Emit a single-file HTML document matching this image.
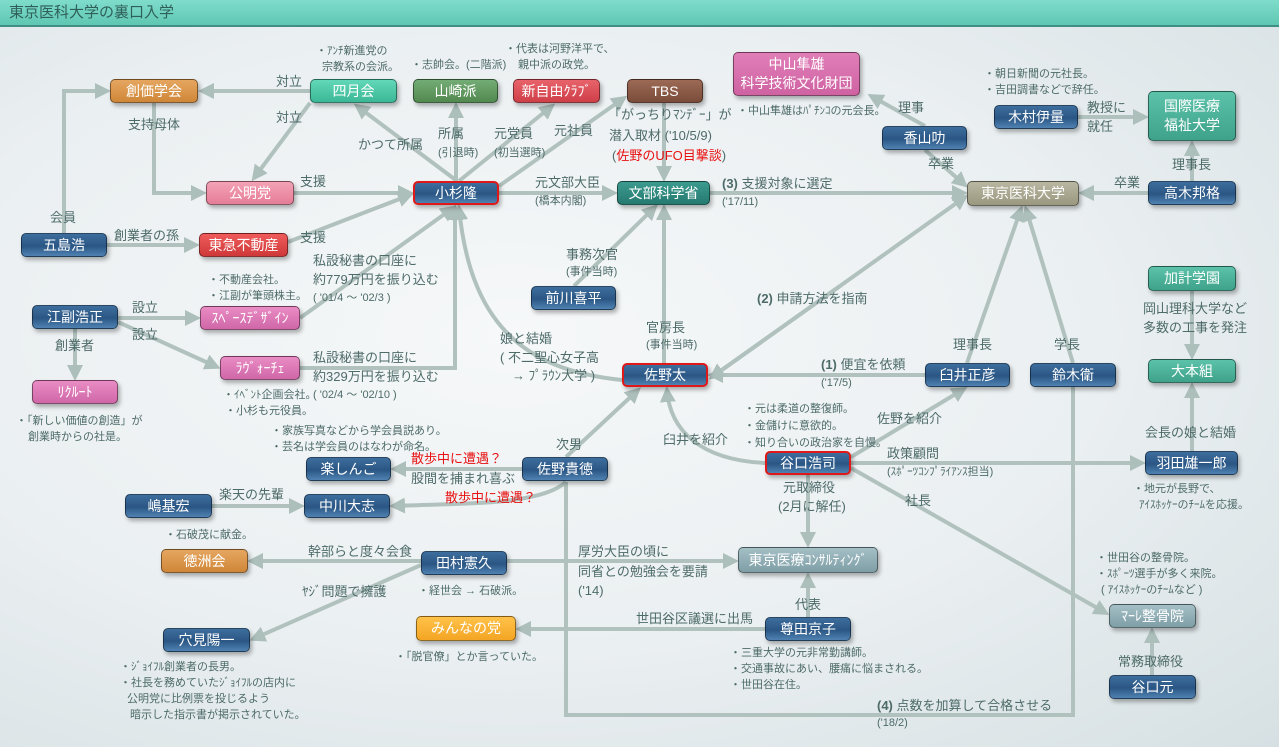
<!DOCTYPE html>
<html><head><meta charset="utf-8"><style>
*{margin:0;padding:0;box-sizing:border-box}
body{width:1279px;height:747px;overflow:hidden;position:relative;font-family:"Liberation Sans","Noto Sans CJK JP",sans-serif;background:radial-gradient(ellipse at 40% 45%,#f6f8f9 0%,#eaeff1 55%,#d6e0e3 100%);color:#4d6b69}
#title{position:absolute;left:0;top:0;width:1279px;height:27px;background:linear-gradient(#7fdccb,#5fc7b3);border-bottom:2px solid #3f8f84;font-size:15px;line-height:26px;padding-left:9px;color:#2f5f59}
svg{position:absolute;left:0;top:0}
.n{position:absolute;border-radius:5px;color:#fff;font-size:14px;text-align:center;display:flex;align-items:center;justify-content:center;line-height:19px;box-shadow:2px 3px 4px rgba(0,0,0,.3);border:1px solid rgba(0,0,0,.45)}
.b{background:linear-gradient(#3d6e9e,#2b5684 55%,#4f82b2)}
.r{border:2px solid #e01818}
.t{position:absolute;font-size:13px;white-space:nowrap;line-height:16px}
.s{position:absolute;font-size:11px;white-space:nowrap;line-height:14px}
.red{color:#e81010}
</style></head><body>
<div id="title">東京医科大学の裏口入学</div>
<svg width="1279" height="747">
<defs><marker id="a" markerWidth="4" markerHeight="4" refX="3" refY="2" orient="auto" markerUnits="strokeWidth"><path d="M0,0 L4,2 L0,4 z" fill="#adbfbb"/></marker></defs>
<g stroke="#b1c2be" stroke-width="4" fill="none" marker-end="url(#a)">
<line x1="310" y1="91" x2="202" y2="91"/>
<line x1="310" y1="103" x2="254" y2="178"/>
<polyline points="154,103 154,193 203,193"/>
<polyline points="64,233 64,91 107,91"/>
<line x1="107" y1="245" x2="196" y2="245"/>
<line x1="294" y1="193" x2="410" y2="193"/>
<line x1="288" y1="242" x2="410" y2="195"/>
<line x1="457" y1="181" x2="357" y2="106"/>
<line x1="456" y1="181" x2="456" y2="106"/>
<line x1="459" y1="181" x2="552" y2="106"/>
<line x1="499" y1="186" x2="624" y2="98"/>
<line x1="499" y1="193" x2="614" y2="193"/>
<line x1="664" y1="103" x2="664" y2="178"/>
<line x1="300" y1="318" x2="453" y2="208"/>
<polyline points="300,368 455,368 455,208"/>
<path d="M622,380 C520,370 470,320 459,208"/>
<line x1="574" y1="286" x2="655" y2="207"/>
<line x1="664" y1="363" x2="664" y2="208"/>
<line x1="710" y1="193" x2="964" y2="193"/>
<line x1="925" y1="126" x2="871" y2="96"/>
<line x1="925" y1="150" x2="965" y2="185"/>
<line x1="1078" y1="117" x2="1145" y2="117"/>
<line x1="1192" y1="181" x2="1192" y2="144"/>
<line x1="1148" y1="193" x2="1082" y2="193"/>
<line x1="840" y1="286" x2="965" y2="197"/>
<line x1="840" y1="286" x2="712" y2="377"/>
<line x1="925" y1="375" x2="711" y2="375"/>
<line x1="967" y1="363" x2="1021" y2="209"/>
<line x1="1073" y1="363" x2="1026" y2="209"/>
<line x1="1192" y1="291" x2="1192" y2="356"/>
<line x1="1192" y1="451" x2="1192" y2="386"/>
<line x1="851" y1="463" x2="1142" y2="463"/>
<line x1="851" y1="457" x2="964" y2="389"/>
<path d="M765,463 C700,460 670,430 667,390"/>
<line x1="808" y1="475" x2="808" y2="544"/>
<line x1="851" y1="468" x2="1106" y2="613"/>
<line x1="808" y1="617" x2="808" y2="576"/>
<line x1="765" y1="629" x2="519" y2="629"/>
<line x1="507" y1="561" x2="735" y2="561"/>
<line x1="421" y1="561" x2="251" y2="561"/>
<line x1="421" y1="565" x2="253" y2="639"/>
<line x1="1152" y1="675" x2="1152" y2="631"/>
<line x1="566" y1="457" x2="638" y2="390"/>
<line x1="522" y1="469" x2="394" y2="469"/>
<path d="M566,482 C540,505 470,503 393,506"/>
<line x1="212" y1="506" x2="301" y2="506"/>
<line x1="118" y1="318" x2="197" y2="318"/>
<line x1="118" y1="322" x2="217" y2="367"/>
<line x1="75" y1="329" x2="75" y2="377"/>
</g>
<line x1="840" y1="286" x2="712" y2="377" stroke="#b1c2be" stroke-width="4" marker-end="url(#a)"/>
<polyline points="566,482 566,715 1073,715 1073,387" stroke="#b1c2be" stroke-width="4" fill="none"/>
</svg>

<div class="n" style="left:110px;top:79px;width:88px;height:24px;background:linear-gradient(#e6a660,#cf8738)">創価学会</div>
<div class="n" style="left:310px;top:79px;width:87px;height:24px;background:linear-gradient(#62d8b8,#3bb897)">四月会</div>
<div class="n" style="left:413px;top:79px;width:85px;height:24px;background:linear-gradient(#74ac76,#52894f)">山崎派</div>
<div class="n" style="left:513px;top:79px;width:87px;height:24px;background:linear-gradient(#e8636b,#cf3f48)">新自由ｸﾗﾌﾞ</div>
<div class="n" style="left:627px;top:79px;width:76px;height:24px;background:linear-gradient(#9c6a55,#7a4c3a)">TBS</div>
<div class="n" style="left:733px;top:52px;width:127px;height:44px;background:linear-gradient(#e07fb8,#cf62a2);flex-direction:column">中山隼雄<br>科学技術文化財団</div>
<div class="n" style="left:206px;top:181px;width:88px;height:24px;background:linear-gradient(#f3a2b5,#e57d97)">公明党</div>
<div class="n b r" style="left:413px;top:181px;width:86px;height:24px">小杉隆</div>
<div class="n" style="left:617px;top:181px;width:93px;height:24px;background:linear-gradient(#3c9a8f,#267a70)">文部科学省</div>
<div class="n" style="left:967px;top:181px;width:112px;height:25px;background:linear-gradient(#b9b7a2,#9a987f)">東京医科大学</div>
<div class="n b" style="left:882px;top:126px;width:85px;height:24px">香山叻</div>
<div class="n b" style="left:994px;top:105px;width:84px;height:24px">木村伊量</div>
<div class="n" style="left:1148px;top:91px;width:88px;height:50px;background:linear-gradient(#5cc2aa,#3fa28a);flex-direction:column">国際医療<br>福祉大学</div>
<div class="n b" style="left:1148px;top:181px;width:88px;height:24px">高木邦格</div>
<div class="n b" style="left:21px;top:233px;width:86px;height:24px">五島浩</div>
<div class="n" style="left:199px;top:233px;width:89px;height:24px;background:linear-gradient(#ef5b5b,#cf3838)">東急不動産</div>
<div class="n b" style="left:531px;top:286px;width:85px;height:24px">前川喜平</div>
<div class="n" style="left:1148px;top:266px;width:88px;height:25px;background:linear-gradient(#5cc2aa,#3fa28a)">加計学園</div>
<div class="n b" style="left:32px;top:305px;width:86px;height:24px">江副浩正</div>
<div class="n" style="left:200px;top:306px;width:100px;height:24px;background:linear-gradient(#e98cc4,#d067a8)">ｽﾍﾟｰｽﾃﾞｻﾞｲﾝ</div>
<div class="n" style="left:220px;top:356px;width:80px;height:24px;background:linear-gradient(#e98cc4,#d067a8)">ﾗｳﾞｫｰﾁｪ</div>
<div class="n" style="left:32px;top:380px;width:86px;height:24px;background:linear-gradient(#e98cc4,#d067a8)">ﾘｸﾙｰﾄ</div>
<div class="n b r" style="left:622px;top:363px;width:86px;height:24px">佐野太</div>
<div class="n b" style="left:925px;top:363px;width:85px;height:24px">臼井正彦</div>
<div class="n b" style="left:1030px;top:363px;width:86px;height:24px">鈴木衛</div>
<div class="n" style="left:1148px;top:359px;width:88px;height:24px;background:linear-gradient(#5cc2aa,#3fa28a)">大本組</div>
<div class="n b r" style="left:765px;top:451px;width:86px;height:24px">谷口浩司</div>
<div class="n b" style="left:1145px;top:451px;width:93px;height:24px">羽田雄一郎</div>
<div class="n b" style="left:306px;top:457px;width:85px;height:24px">楽しんご</div>
<div class="n b" style="left:522px;top:457px;width:86px;height:24px">佐野貴徳</div>
<div class="n b" style="left:125px;top:494px;width:87px;height:24px">嶋基宏</div>
<div class="n b" style="left:304px;top:494px;width:86px;height:24px">中川大志</div>
<div class="n" style="left:161px;top:549px;width:87px;height:24px;background:linear-gradient(#e6a660,#cf8738)">徳洲会</div>
<div class="n b" style="left:421px;top:551px;width:86px;height:24px">田村憲久</div>
<div class="n" style="left:738px;top:547px;width:140px;height:26px;background:linear-gradient(#a4bfc6,#7f9ea6)">東京医療ｺﾝｻﾙﾃｨﾝｸﾞ</div>
<div class="n" style="left:1109px;top:604px;width:87px;height:24px;background:linear-gradient(#a4bfc6,#7f9ea6)">ﾏｰﾚ整骨院</div>
<div class="n" style="left:416px;top:616px;width:100px;height:25px;background:linear-gradient(#ffc24a,#f4a523)">みんなの党</div>
<div class="n b" style="left:765px;top:617px;width:86px;height:24px">尊田京子</div>
<div class="n b" style="left:163px;top:628px;width:87px;height:24px">穴見陽一</div>
<div class="n b" style="left:1109px;top:675px;width:87px;height:24px">谷口元</div>

<div class="s" style="left:316px;top:44px">・ｱﾝﾁ新進党の</div>
<div class="s" style="left:322px;top:60px">宗教系の会派。</div>
<div class="s" style="left:411px;top:58px">・志帥会。(二階派)</div>
<div class="s" style="left:505px;top:42px">・代表は河野洋平で、</div>
<div class="s" style="left:518px;top:58px">親中派の政党。</div>
<div class="t" style="left:276px;top:74px">対立</div>
<div class="t" style="left:276px;top:110px">対立</div>
<div class="t" style="left:128px;top:117px">支持母体</div>
<div class="t" style="left:358px;top:137px">かつて所属</div>
<div class="t" style="left:438px;top:126px">所属</div>
<div class="s" style="left:438px;top:146px">(引退時)</div>
<div class="t" style="left:494px;top:126px">元党員</div>
<div class="s" style="left:494px;top:146px">(初当選時)</div>
<div class="t" style="left:554px;top:123px">元社員</div>
<div class="t" style="left:608px;top:107px">「がっちりﾏﾝﾃﾞｰ」が</div>
<div class="t" style="left:609px;top:128px">潜入取材 ('10/5/9)</div>
<div class="t" style="left:612px;top:148px">(<span class="red">佐野のUFO目撃談</span>)</div>
<div class="s" style="left:737px;top:104px">・中山隼雄はﾊﾟﾁﾝｺの元会長。</div>
<div class="t" style="left:898px;top:100px">理事</div>
<div class="s" style="left:984px;top:67px">・朝日新聞の元社長。</div>
<div class="s" style="left:984px;top:83px">・吉田調書などで辞任。</div>
<div class="t" style="left:1087px;top:100px">教授に</div>
<div class="t" style="left:1087px;top:119px">就任</div>
<div class="t" style="left:928px;top:156px">卒業</div>
<div class="t" style="left:1172px;top:157px">理事長</div>
<div class="t" style="left:1114px;top:175px">卒業</div>
<div class="t" style="left:300px;top:174px">支援</div>
<div class="t" style="left:535px;top:175px">元文部大臣</div>
<div class="s" style="left:535px;top:194px">(橋本内閣)</div>
<div class="t" style="left:722px;top:176px"><b>(3)</b> 支援対象に選定</div>
<div class="s" style="left:722px;top:195px">('17/11)</div>
<div class="t" style="left:50px;top:210px">会員</div>
<div class="t" style="left:114px;top:228px">創業者の孫</div>
<div class="t" style="left:300px;top:230px">支援</div>
<div class="t" style="left:566px;top:247px">事務次官</div>
<div class="s" style="left:566px;top:265px">(事件当時)</div>
<div class="t" style="left:313px;top:253px">私設秘書の口座に</div>
<div class="t" style="left:313px;top:272px">約779万円を振り込む</div>
<div class="s" style="left:313px;top:291px">( '01/4 ～ '02/3 )</div>
<div class="s" style="left:208px;top:273px">・不動産会社。</div>
<div class="s" style="left:208px;top:289px">・江副が筆頭株主。</div>
<div class="t" style="left:757px;top:291px"><b>(2)</b> 申請方法を指南</div>
<div class="t" style="left:1143px;top:301px">岡山理科大学など</div>
<div class="t" style="left:1143px;top:320px">多数の工事を発注</div>
<div class="t" style="left:132px;top:300px">設立</div>
<div class="t" style="left:132px;top:327px">設立</div>
<div class="t" style="left:55px;top:338px">創業者</div>
<div class="t" style="left:500px;top:331px">娘と結婚</div>
<div class="t" style="left:500px;top:350px">( 不二聖心女子高</div>
<div class="t" style="left:512px;top:368px">→ ﾌﾟﾗｳﾝ大学 )</div>
<div class="t" style="left:646px;top:320px">官房長</div>
<div class="s" style="left:646px;top:338px">(事件当時)</div>
<div class="t" style="left:953px;top:337px">理事長</div>
<div class="t" style="left:1054px;top:337px">学長</div>
<div class="t" style="left:313px;top:350px">私設秘書の口座に</div>
<div class="t" style="left:313px;top:369px">約329万円を振り込む</div>
<div class="s" style="left:313px;top:388px">( '02/4 ～ '02/10 )</div>
<div class="t" style="left:821px;top:357px"><b>(1)</b> 便宜を依頼</div>
<div class="s" style="left:821px;top:376px">('17/5)</div>
<div class="s" style="left:223px;top:388px">・ｲﾍﾞﾝﾄ企画会社。</div>
<div class="s" style="left:225px;top:404px">・小杉も元役員。</div>
<div class="s" style="left:16px;top:414px">・「新しい価値の創造」が</div>
<div class="s" style="left:28px;top:430px">創業時からの社是。</div>
<div class="s" style="left:744px;top:402px">・元は柔道の整復師。</div>
<div class="s" style="left:744px;top:419px">・金儲けに意欲的。</div>
<div class="s" style="left:744px;top:436px">・知り合いの政治家を自慢。</div>
<div class="t" style="left:877px;top:411px">佐野を紹介</div>
<div class="t" style="left:663px;top:432px">臼井を紹介</div>
<div class="s" style="left:271px;top:424px">・家族写真などから学会員説あり。</div>
<div class="s" style="left:271px;top:440px">・芸名は学会員のはなわが命名。</div>
<div class="t" style="left:1145px;top:425px">会長の娘と結婚</div>
<div class="t" style="left:556px;top:437px">次男</div>
<div class="t" style="left:887px;top:446px">政策顧問</div>
<div class="s" style="left:887px;top:465px">(ｽﾎﾟｰﾂｺﾝﾌﾟﾗｲｱﾝｽ担当)</div>
<div class="t red" style="left:411px;top:451px">散歩中に遭遇？</div>
<div class="t" style="left:411px;top:471px">股間を捕まれ喜ぶ</div>
<div class="t" style="left:219px;top:487px">楽天の先輩</div>
<div class="t red" style="left:445px;top:490px">散歩中に遭遇？</div>
<div class="t" style="left:783px;top:480px">元取締役</div>
<div class="t" style="left:778px;top:499px">(2月に解任)</div>
<div class="t" style="left:905px;top:493px">社長</div>
<div class="s" style="left:1133px;top:482px">・地元が長野で、</div>
<div class="s" style="left:1139px;top:498px">ｱｲｽﾎｯｹｰのﾁｰﾑを応援。</div>
<div class="s" style="left:165px;top:528px">・石破茂に献金。</div>
<div class="t" style="left:308px;top:544px">幹部らと度々会食</div>
<div class="t" style="left:578px;top:544px">厚労大臣の頃に</div>
<div class="t" style="left:578px;top:564px">同省との勉強会を要請</div>
<div class="t" style="left:578px;top:583px">('14)</div>
<div class="s" style="left:1096px;top:551px">・世田谷の整骨院。</div>
<div class="s" style="left:1096px;top:567px">・ｽﾎﾟｰﾂ選手が多く来院。</div>
<div class="s" style="left:1101px;top:583px">( ｱｲｽﾎｯｹｰのﾁｰﾑなど )</div>
<div class="t" style="left:302px;top:584px">ﾔｼﾞ問題で擁護</div>
<div class="s" style="left:418px;top:584px">・経世会 → 石破派。</div>
<div class="t" style="left:795px;top:597px">代表</div>
<div class="t" style="left:636px;top:611px">世田谷区議選に出馬</div>
<div class="s" style="left:395px;top:650px">・「脱官僚」とか言っていた。</div>
<div class="t" style="left:1118px;top:654px">常務取締役</div>
<div class="s" style="left:730px;top:646px">・三重大学の元非常勤講師。</div>
<div class="s" style="left:730px;top:662px">・交通事故にあい、腰痛に悩まされる。</div>
<div class="s" style="left:730px;top:678px">・世田谷在住。</div>
<div class="s" style="left:120px;top:660px">・ｼﾞｮｲﾌﾙ創業者の長男。</div>
<div class="s" style="left:120px;top:676px">・社長を務めていたｼﾞｮｲﾌﾙの店内に</div>
<div class="s" style="left:127px;top:692px">公明党に比例票を投じるよう</div>
<div class="s" style="left:130px;top:708px">暗示した指示書が掲示されていた。</div>
<div class="t" style="left:877px;top:698px"><b>(4)</b> 点数を加算して合格させる</div>
<div class="s" style="left:877px;top:716px">('18/2)</div>
</body></html>
